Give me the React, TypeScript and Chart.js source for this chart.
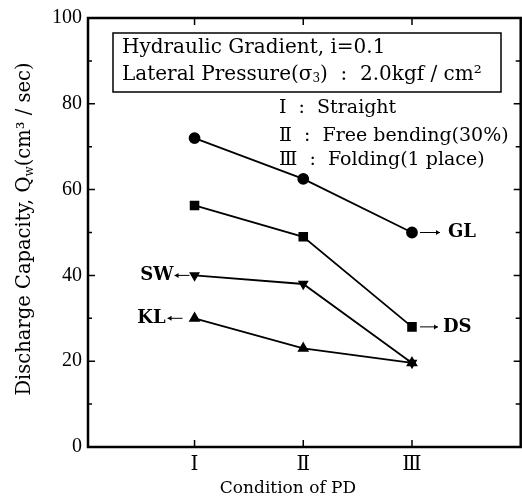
import React, { useEffect, useRef } from "react";
import { Chart, registerables } from "chart.js";

Chart.register(...registerables);

// ---- data ----
const conditionPositions = [1, 2, 3];
const conditionLabels = ["Ⅰ", "Ⅱ", "Ⅲ"];
const glValues = [72, 62.5, 50];
const dsValues = [56.3, 49, 28];
const swValues = [40, 38, 19.6];
const klValues = [30, 23, 19.6];
const yTickValues = [0, 20, 40, 60, 80, 100];
const seriesNames = ["GL", "DS", "SW", "KL"];
const infoLines = ["Hydraulic Gradient, i=0.1", "Lateral Pressure(σ", "3", ")  :  2.0kgf / cm²"];
const conditionNotes = ["Ⅰ  :  Straight", "Ⅱ  :  Free bending(30%)", "Ⅲ  :  Folding(1 place)"];
const xTitle = "Condition of PD";
const yTitleParts = ["Discharge Capacity, Q", "w", "(cm³ / sec)"];

const SERIF = "'DejaVu Serif', 'Liberation Serif', serif";

function toPoints(vals: number[]) {
  return vals.map((v, i) => ({ x: conditionPositions[i], y: v }));
}

function arrow(ctx: CanvasRenderingContext2D, x1: number, y: number, x2: number, dir: number) {
  ctx.beginPath();
  ctx.moveTo(x1, y);
  ctx.lineTo(x2, y);
  ctx.stroke();
  ctx.beginPath();
  ctx.moveTo(x2, y);
  ctx.lineTo(x2 - dir * 4, y - 2.5);
  ctx.lineTo(x2 - dir * 4, y + 2.5);
  ctx.closePath();
  ctx.fill();
}

const decorPlugin = {
  id: "decor",
  afterDraw(chart: any) {
    const ctx: CanvasRenderingContext2D = chart.ctx;
    const { left, right, top, bottom } = chart.chartArea;
    const xs = chart.scales.x;
    const ys = chart.scales.y;
    ctx.save();
    ctx.strokeStyle = "#000";
    ctx.fillStyle = "#000";

    // frame
    ctx.lineWidth = 2.5;
    ctx.strokeRect(left, top, right - left, bottom - top);

    // inward ticks
    ctx.lineWidth = 1.5;
    for (let v = 10; v < 100; v += 10) {
      const y = ys.getPixelForValue(v);
      const major = v % 20 === 0;
      ctx.beginPath();
      ctx.moveTo(left, y);
      ctx.lineTo(left + (major ? 7 : 4), y);
      ctx.moveTo(right, y);
      ctx.lineTo(right - (major ? 7 : 5), y);
      ctx.stroke();
    }
    for (const p of conditionPositions) {
      const x = xs.getPixelForValue(p);
      ctx.beginPath();
      ctx.moveTo(x, bottom);
      ctx.lineTo(x, bottom - 7);
      ctx.moveTo(x, top);
      ctx.lineTo(x, top + 7);
      ctx.stroke();
    }

    // info box
    ctx.lineWidth = 1.5;
    ctx.strokeRect(113, 33, 388, 59);
    ctx.font = `20px ${SERIF}`;
    ctx.textBaseline = "middle";
    ctx.textAlign = "left";
    ctx.fillText(infoLines[0], 122, 48);
    let tx = 122;
    ctx.fillText(infoLines[1], tx, 75);
    tx += ctx.measureText(infoLines[1]).width;
    ctx.font = `12px ${SERIF}`;
    ctx.fillText(infoLines[2], tx, 79);
    tx += ctx.measureText(infoLines[2]).width;
    ctx.font = `20px ${SERIF}`;
    ctx.fillText(infoLines[3], tx, 75);

    // condition notes
    const noteY = [108, 136, 160];
    ctx.font = `19px ${SERIF}`;
    conditionNotes.forEach((t, i) => ctx.fillText(t, 279, noteY[i]));

    // series labels
    ctx.lineWidth = 1;
    ctx.font = `bold 18px ${SERIF}`;
    const x3 = xs.getPixelForValue(3);
    const x1 = xs.getPixelForValue(1);
    const yGL = ys.getPixelForValue(glValues[2]);
    arrow(ctx, x3 + 8, yGL, x3 + 28, 1);
    ctx.fillText(seriesNames[0], x3 + 36, yGL);
    const yDS = ys.getPixelForValue(dsValues[2]);
    arrow(ctx, x3 + 8, yDS, x3 + 26, 1);
    ctx.fillText(seriesNames[1], x3 + 31, yDS);
    const ySW = ys.getPixelForValue(swValues[0]);
    arrow(ctx, x1 - 5, ySW, x1 - 20, -1);
    ctx.textAlign = "right";
    ctx.fillText(seriesNames[2], x1 - 21, ySW);
    const yKL = ys.getPixelForValue(klValues[0]);
    arrow(ctx, x1 - 12, yKL, x1 - 27, -1);
    ctx.fillText(seriesNames[3], x1 - 29, yKL);

    // x title
    ctx.textAlign = "center";
    ctx.font = `17px ${SERIF}`;
    ctx.fillText(xTitle, 288, 489);

    // y title with subscript
    ctx.translate(25, 229);
    ctx.rotate(-Math.PI / 2);
    ctx.font = `19.5px ${SERIF}`;
    const w0 = ctx.measureText(yTitleParts[0]).width;
    const w2 = ctx.measureText(yTitleParts[2]).width;
    ctx.font = `12px ${SERIF}`;
    const w1 = ctx.measureText(yTitleParts[1]).width;
    let px = -(w0 + w1 + w2) / 2;
    ctx.textAlign = "left";
    ctx.font = `19.5px ${SERIF}`;
    ctx.fillText(yTitleParts[0], px, 0);
    px += w0;
    ctx.font = `12px ${SERIF}`;
    ctx.fillText(yTitleParts[1], px, 5);
    px += w1;
    ctx.font = `19.5px ${SERIF}`;
    ctx.fillText(yTitleParts[2], px, 0);

    ctx.restore();
  },
};

export default function App() {
  const ref = useRef<HTMLCanvasElement | null>(null);
  useEffect(() => {
    document.body.style.margin = "0";
    const canvas = ref.current!;
    const common = {
      borderColor: "#000",
      backgroundColor: "#000",
      pointBorderColor: "#000",
      pointBackgroundColor: "#000",
      borderWidth: 1.8,
      fill: false,
      tension: 0,
    };
    const chart = new Chart(canvas, {
      type: "line",
      data: {
        datasets: [
          { ...common, label: seriesNames[0], data: toPoints(glValues), pointStyle: "circle", pointRadius: 5 },
          { ...common, label: seriesNames[1], data: toPoints(dsValues), pointStyle: "rect", pointRadius: 5.5 },
          { ...common, label: seriesNames[2], data: toPoints(swValues), pointStyle: "triangle", pointRotation: 180, pointRadius: 4.5 },
          { ...common, label: seriesNames[3], data: toPoints(klValues), pointStyle: "triangle", pointRadius: 5 },
        ],
      },
      options: {
        animation: false,
        responsive: false,
        layout: { padding: { top: 14, right: 0, left: 0, bottom: 0 } },
        plugins: { legend: { display: false }, tooltip: { enabled: false } },
        scales: {
          x: {
            type: "linear",
            min: 0.02,
            max: 4,
            grid: { display: false, drawTicks: false },
            border: { display: false },
            afterBuildTicks: (s: any) => {
              s.ticks = conditionPositions.map((v) => ({ value: v }));
            },
            afterFit: (s: any) => {
              s.height = 55;
            },
            ticks: {
              color: "#000",
              font: { family: SERIF, size: 20 },
              padding: 6,
              autoSkip: false,
              maxRotation: 0,
              callback: (v: any) => {
                const i = conditionPositions.indexOf(Number(v));
                return i >= 0 ? conditionLabels[i] : "";
              },
            },
          },
          y: {
            min: 0,
            max: 100,
            grid: { display: false, drawTicks: false },
            border: { display: false },
            afterBuildTicks: (s: any) => {
              s.ticks = yTickValues.map((v) => ({ value: v }));
            },
            afterFit: (s: any) => {
              s.width = 88;
            },
            ticks: {
              color: "#000",
              font: { family: "'Liberation Serif', serif", size: 20 },
              padding: 6,
            },
          },
        },
      },
      plugins: [decorPlugin],
    } as any);
    return () => chart.destroy();
  }, []);
  return (
    <div style={{ position: "fixed", left: 0, top: 0, width: 522, height: 502, overflow: "hidden", background: "#fff" }}>
      <canvas ref={ref} width={528} height={502} />
    </div>
  );
}
